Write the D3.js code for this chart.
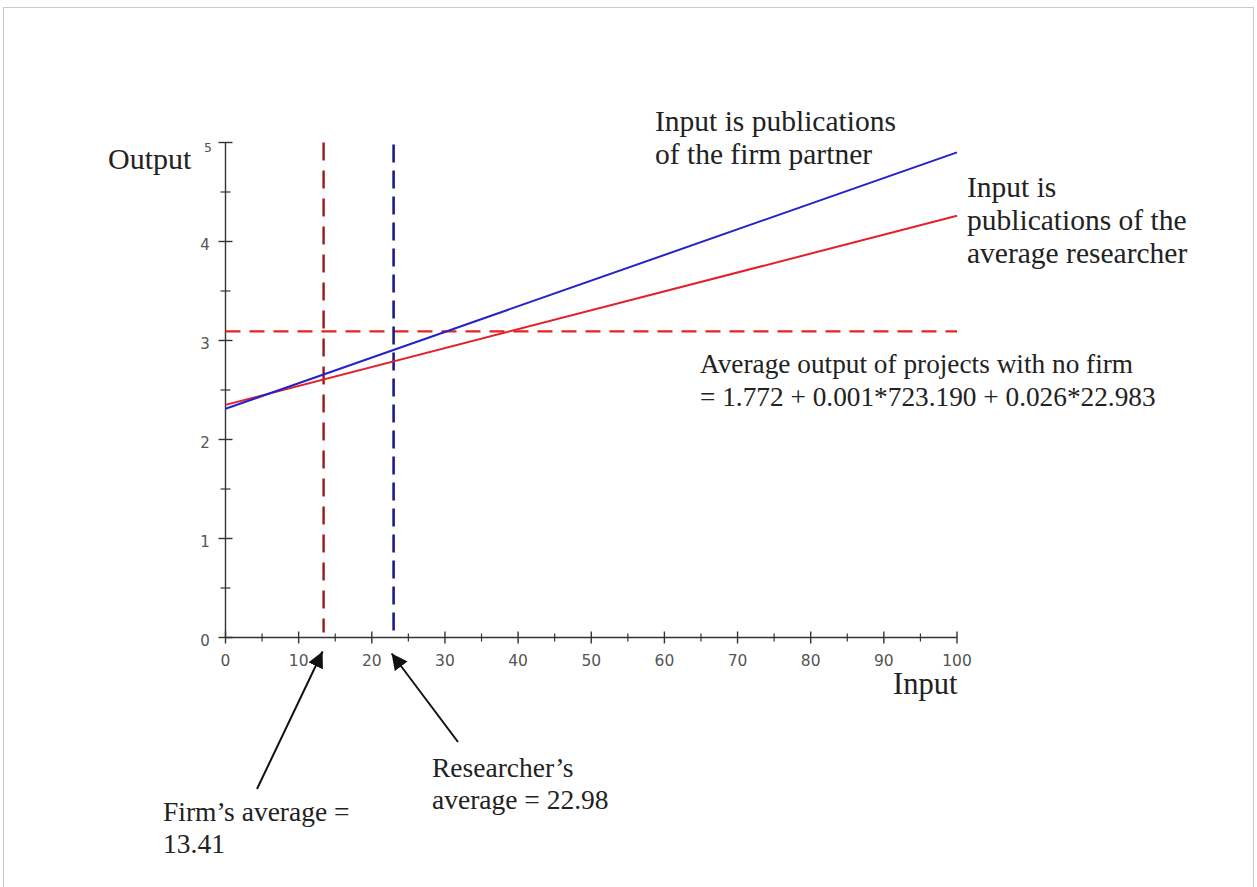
<!DOCTYPE html>
<html>
<head>
<meta charset="utf-8">
<script src="https://cdn.jsdelivr.net/npm/d3@7"></script>
<style>
html,body{margin:0;padding:0;background:#fff;}
svg{display:block;}
</style>
</head>
<body>
<script>
// ---- data ----
const inputPoints = [0, 100];
const firmPartnerOutput = [2.31, 4.90];     // blue line
const avgResearcherOutput = [2.35, 4.26];   // red line
const noFirmAverage = 3.093;                // horizontal dashed
const firmAverage = 13.41;                  // red dashed vertical
const researcherAverage = 22.98;            // blue dashed vertical
const xMajorTicks = [0,10,20,30,40,50,60,70,80,90,100];
const xMinorTicks = [5,15,25,35,45,55,65,75,85,95];
const yMajorTicks = [0,1,2,3,4,5];
const yMinorTicks = [0.5,1.5,2.5,3.5,4.5];

const W = 1257, H = 887;
const svg = d3.select("body").append("svg").attr("width", W).attr("height", H);

// frame
svg.append("rect").attr("x",3.5).attr("y",7.5).attr("width",1250).attr("height",H)
  .attr("fill","none").attr("stroke","#c8c8c8").attr("stroke-width",1);

const x = d3.scaleLinear().domain([0,100]).range([225.5, 957]);
const y = d3.scaleLinear().domain([0,5]).range([637.5, 142.5]);

const serif = "'Liberation Serif', 'Times New Roman', serif";
const sans = "'DejaVu Sans', sans-serif";
const axisColor = "#333";

// axes lines
svg.append("line").attr("x1",x(0)).attr("x2",x(100)).attr("y1",y(0)).attr("y2",y(0))
  .attr("stroke",axisColor).attr("stroke-width",1.4);
svg.append("line").attr("x1",x(0)).attr("x2",x(0)).attr("y1",y(0)).attr("y2",y(5))
  .attr("stroke",axisColor).attr("stroke-width",1.4);

// x ticks
svg.selectAll(".xmaj").data(xMajorTicks).enter().append("line")
  .attr("x1",d=>x(d)).attr("x2",d=>x(d)).attr("y1",y(0)-6).attr("y2",y(0)+6)
  .attr("stroke",axisColor).attr("stroke-width",1.4);
svg.selectAll(".xmin").data(xMinorTicks).enter().append("line")
  .attr("x1",d=>x(d)).attr("x2",d=>x(d)).attr("y1",y(0)-4).attr("y2",y(0)+4)
  .attr("stroke",axisColor).attr("stroke-width",1.2);
svg.selectAll(".xlab").data(xMajorTicks).enter().append("text")
  .attr("x",d=>x(d)).attr("y",y(0)+28.5).attr("text-anchor","middle")
  .attr("font-family",sans).attr("font-size",15.5).attr("fill","#555")
  .text(d=>d);

// y ticks
svg.selectAll(".ymaj").data(yMajorTicks).enter().append("line")
  .attr("x1",x(0)-7).attr("x2",x(0)+7).attr("y1",d=>y(d)).attr("y2",d=>y(d))
  .attr("stroke",axisColor).attr("stroke-width",1.4);
svg.selectAll(".ymin").data(yMinorTicks).enter().append("line")
  .attr("x1",x(0)-5).attr("x2",x(0)+5).attr("y1",d=>y(d)).attr("y2",d=>y(d))
  .attr("stroke",axisColor).attr("stroke-width",1.2);
svg.selectAll(".ylab").data(yMajorTicks).enter().append("text")
  .attr("x",d=> d===5 ? 208 : 205).attr("y",d=> d===5 ? y(d)+9 : y(d)+8)
  .attr("text-anchor","middle")
  .attr("font-family",sans).attr("font-size",d=>d===5?12.5:15).attr("fill","#555")
  .text(d=>d);

// axis titles
svg.append("text").attr("x",108).attr("y",169).attr("font-family",serif).attr("font-size",30)
  .attr("fill","#222").text("Output");
svg.append("text").attr("x",893).attr("y",694).attr("font-family",serif).attr("font-size",30.5)
  .attr("fill","#222").text("Input");

// dashed reference lines
svg.append("line").attr("x1",x(0)).attr("x2",x(100)).attr("y1",y(noFirmAverage)).attr("y2",y(noFirmAverage))
  .attr("stroke","#e8231f").attr("stroke-width",2.2).attr("stroke-dasharray","15,9");
svg.append("line").attr("x1",x(firmAverage)).attr("x2",x(firmAverage)).attr("y1",y(5)).attr("y2",y(0)-5)
  .attr("stroke","#9a1a1a").attr("stroke-width",2.4).attr("stroke-dasharray","18,10");
svg.append("line").attr("x1",x(researcherAverage)).attr("x2",x(researcherAverage)).attr("y1",y(5)+2).attr("y2",y(0)-6)
  .attr("stroke","#1c1c8c").attr("stroke-width",2.6).attr("stroke-dasharray","18,8");

// regression lines
const lineGen = d3.line().x(d=>x(d[0])).y(d=>y(d[1]));
svg.append("path").datum(inputPoints.map((v,i)=>[v,avgResearcherOutput[i]]))
  .attr("d",lineGen).attr("fill","none").attr("stroke","#e3202a").attr("stroke-width",2);
svg.append("path").datum(inputPoints.map((v,i)=>[v,firmPartnerOutput[i]]))
  .attr("d",lineGen).attr("fill","none").attr("stroke","#2323c8").attr("stroke-width",2);

// annotations
function lines(xp, yp, arr, size, gap){
  arr.forEach((t,i)=>{
    svg.append("text").attr("x",xp).attr("y",yp+i*gap).attr("font-family",serif)
      .attr("font-size",size).attr("fill","#222").text(t);
  });
}
lines(655,131,["Input is publications","of the firm partner"],29.5,33);
lines(967,197,["Input is","publications of the","average researcher"],29.5,33);
lines(700,373,["Average output of projects with no firm","= 1.772 + 0.001*723.190 + 0.026*22.983"],27.3,33);
lines(432,777,["Researcher\u2019s","average = 22.98"],27.5,32);
lines(163,821,["Firm\u2019s average =","13.41"],27.5,32);

// arrows
const defs = svg.append("defs");
defs.append("marker").attr("id","ah").attr("viewBox","0 0 10 10").attr("refX",10).attr("refY",5)
  .attr("markerWidth",16).attr("markerHeight",16).attr("markerUnits","userSpaceOnUse").attr("orient","auto")
  .append("path").attr("d","M0,0 L10,5 L0,10 Z").attr("fill","#111");
svg.append("line").attr("x1",257).attr("y1",789).attr("x2",x(firmAverage)-1).attr("y2",y(0)+14)
  .attr("stroke","#111").attr("stroke-width",2).attr("marker-end","url(#ah)");
svg.append("line").attr("x1",458).attr("y1",742).attr("x2",x(researcherAverage)-2).attr("y2",y(0)+16)
  .attr("stroke","#111").attr("stroke-width",2).attr("marker-end","url(#ah)");
</script>
</body>
</html>
